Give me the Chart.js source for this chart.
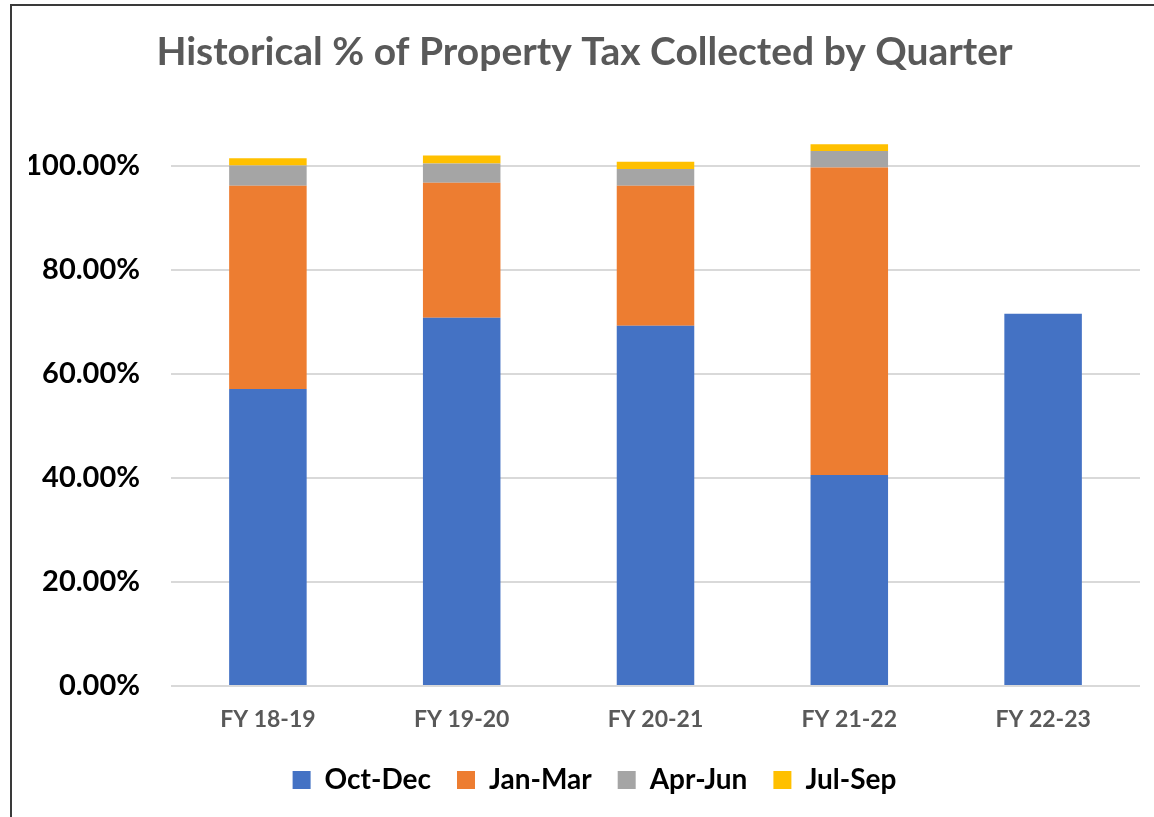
<!DOCTYPE html>
<html>
<head>
<meta charset="utf-8">
<script src="https://cdn.jsdelivr.net/npm/chart.js@4"></script>
<style>
  body { margin: 0; background: #fff; }
  #wrap { position: relative; width: 1154px; height: 817px; overflow: hidden; }
  #frame { position: absolute; left: 10px; top: 4px; width: 1300px; height: 1000px; border: 2px solid #3a3a3a; box-sizing: border-box; }
  #taxChart { position: absolute; left: 0; top: 0; }
</style>
</head>
<body>
<div id="wrap">
  <div id="frame"></div>
  <canvas id="taxChart" width="1154" height="817"></canvas>
</div>
<script>
// 회계연도
const years = ['FY 18-19', 'FY 19-20', 'FY 20-21', 'FY 21-22', 'FY 22-23'];

// 분기별 징수율 (%)
const octDec = [57.1, 70.8, 69.3, 40.6, 71.6];
const janMar = [39.1, 26.0, 26.9, 59.1, null];
const aprJun = [3.9, 3.7, 3.2, 3.2, null];
const julSep = [1.4, 1.5, 1.4, 1.3, null];

// y축 눈금
const yTicks = [0, 20, 40, 60, 80, 100];

const quarterNames = ['Oct-Dec', 'Jan-Mar', 'Apr-Jun', 'Jul-Sep'];
const colors = ['#4472C4', '#ED7D31', '#A5A5A5', '#FFC000'];
const series = [octDec, janMar, aprJun, julSep];

// 범례 위치 조정 (오른쪽으로 조금)
const legendShift = {
  id: 'legendShift',
  afterLayout(chart) {
    chart.legend.left += 10;
    chart.legend.right += 10;
    chart.legend.top -= 1;
    chart.legend.bottom -= 1;
  },
};

const ctx = document.getElementById('taxChart').getContext('2d');
const taxChart = new Chart(ctx, {
  type: 'bar',
  data: {
    labels: years,
    datasets: series.map((values, i) => ({
      label: quarterNames[i],
      data: values,
      backgroundColor: colors[i],
      borderWidth: 0,
      categoryPercentage: 0.8,
      barPercentage: 0.5,
    })),
  },
  plugins: [legendShift],
  options: {
    responsive: false,
    animation: false,
    layout: {
      padding: { left: 29, right: 14, top: 0, bottom: 12 },
    },
    plugins: {
      title: {
        display: true,
        text: 'Historical % of Property Tax Collected by Quarter',
        color: '#595959',
        font: { family: 'Lato', size: 39, weight: 'bold' },
        padding: { top: 29, bottom: 59 },
      },
      legend: {
        position: 'bottom',
        labels: {
          color: '#000',
          font: { family: 'Lato', size: 28, weight: 'bold' },
          boxWidth: 18,
          boxHeight: 18,
          padding: 26,
        },
      },
      tooltip: { enabled: false },
    },
    scales: {
      x: {
        stacked: true,
        grid: { display: false, drawTicks: false },
        border: { display: false },
        afterFit: function (scale) {
          scale.height = 55;
        },
        ticks: {
          color: '#595959',
          font: { family: 'Lato', size: 23, weight: 'bold' },
          padding: 20,
        },
      },
      y: {
        stacked: true,
        min: 0,
        max: 106,
        grid: { color: '#d9d9d9', lineWidth: 2, drawTicks: false },
        border: { display: false },
        afterFit: function (scale) {
          scale.width = 142;
        },
        afterBuildTicks: function (scale) {
          scale.ticks = yTicks.map(v => ({ value: v }));
        },
        ticks: {
          color: '#000',
          font: { family: 'Lato', size: 29, weight: 'bold' },
          padding: 31,
          callback: value => value.toFixed(2) + '%',
        },
      },
    },
  },
});
</script>
</body>
</html>
